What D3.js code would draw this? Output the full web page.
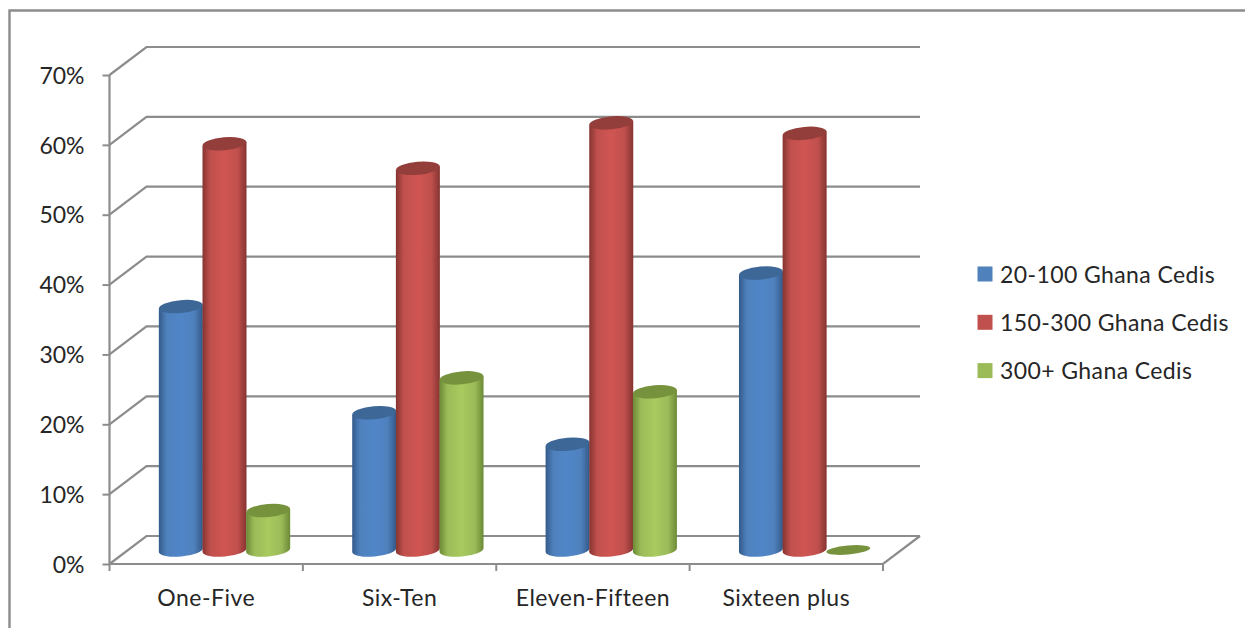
<!DOCTYPE html>
<html><head><meta charset="utf-8">
<script src="https://cdn.jsdelivr.net/npm/d3@7"></script>
<style>html,body{margin:0;padding:0;background:#fff}svg{display:block}text{font-family:Lato,sans-serif;fill:#262626}</style>
</head><body><svg id="c" width="1245" height="628"></svg>
<script>
const categories = ["One-Five","Six-Ten","Eleven-Fifteen","Sixteen plus"];
const seriesNames = ["20-100 Ghana Cedis","150-300 Ghana Cedis","300+ Ghana Cedis"];
const s1 = [0.352,0.20,0.155,0.40];
const s2 = [0.585,0.55,0.615,0.60];
const s3 = [0.06,0.25,0.23,0];
const yTicks = [0,0.1,0.2,0.3,0.4,0.5,0.6,0.7];
const palette = [
 {base:"#4f81bd",dark:"#335a8a",top:"#3d6796"},
 {base:"#c0504d",dark:"#863431",top:"#943e3b"},
 {base:"#9bbb59",dark:"#6c8a35",top:"#76923c"}];
const lightC = ["#5086c8","#d05552","#a8ca5e"];

const svg = d3.select("#c");
const grey = "#8c8c8c";
const dx = 37, dy = -28;
const x = d3.scaleBand().domain(categories).range([109.5,883]);
const y = d3.scaleLinear().domain([0,0.7]).range([564,75]);
const inner = d3.scaleBand().domain(d3.range(3)).range([0,131]);
const fs = 23;

// frame
svg.append("path").attr("d","M9.5,629V10.5H1246").attr("fill","none").attr("stroke",grey).attr("stroke-width",2.4);

// gradients
const defs = svg.append("defs");
palette.forEach((p,i)=>{
  const g = defs.append("linearGradient").attr("id","g"+i);
  [[0,p.dark],[0.18,p.base],[0.5,lightC[i]],[0.8,p.base],[1,p.dark]].forEach(s=>g.append("stop").attr("offset",s[0]).attr("stop-color",s[1]));
});

// gridlines
const grid = svg.append("g").attr("fill","none").attr("stroke",grey).attr("stroke-width",2.2);
yTicks.forEach(t=>{
  grid.append("path").attr("d",`M${x.range()[0]},${y(t)}l${dx},${dy}H${x.range()[1]+dx}`);
});
grid.append("path").attr("d",`M${x.range()[0]},${y(0)}H${x.range()[1]}l${dx},${dy}`);
grid.append("path").attr("d",`M${x.range()[0]},${y(0)}V${y(0.7)}`);

// axes
const yAxis = d3.axisLeft(y).tickValues(yTicks).tickFormat(d3.format(".0%")).tickSize(7).tickPadding(18);
const ya = svg.append("g").attr("transform",`translate(${x.range()[0]},0)`).call(yAxis);
ya.select(".domain").remove();
ya.selectAll("line").attr("stroke",grey).attr("stroke-width",2);
ya.selectAll("text").attr("font-size",fs).attr("font-family","Lato, sans-serif").attr("dy","0.36em");

const tickVals = [0,1,2,3,4].map(i=>x.range()[0]+i*x.step());
svg.append("g").selectAll("line").data(tickVals).join("line")
  .attr("x1",d=>d).attr("x2",d=>d).attr("y1",y(0)).attr("y2",y(0)+7).attr("stroke",grey).attr("stroke-width",2);
svg.append("g").selectAll("text").data(categories).join("text")
  .attr("x",d=>x(d)+x.bandwidth()/2).attr("y",606).attr("text-anchor","middle").attr("font-size",fs).attr("letter-spacing",0.5).text(d=>d);

// cylinders
const all = [s1,s2,s3];
const rx = 22, ry = 6.5, tilt = -5;
const floorY = y(0)-14;
const topShift = 2.5;
const groupOffset = 49.5;
categories.forEach((c,ci)=>{
  const g = svg.append("g");
  all.forEach((vals,si)=>{
    const v = vals[ci];
    const cx = x(c)+groupOffset+inner(si)+inner.bandwidth()/2;
    const topY = floorY+(v>0?topShift:0)-(y(0)-y(v));
    const bar = g.append("g").attr("transform",`translate(${cx},0)`);
    if(v>0){
      bar.append("path")
        .attr("d",`M${-rx},${topY+1.9}V${floorY+1.9}A${rx},${ry} ${tilt} 0 0 ${rx},${floorY-1.9}V${topY-1.9}Z`)
        .attr("fill",`url(#g${si})`);
    }
    bar.append("ellipse").attr("cx",0).attr("cy",topY).attr("rx",rx).attr("ry",v>0?ry:4.5)
      .attr("transform",`rotate(${tilt} 0 ${topY})`).attr("fill",palette[si].top);
  });
});

// legend
const lg = svg.append("g");
seriesNames.forEach((n,i)=>{
  const yy = 274+i*48.3;
  lg.append("rect").attr("x",977.5).attr("y",yy-7.5).attr("width",15).attr("height",15).attr("fill",palette[i].base);
  lg.append("text").attr("x",1000).attr("y",yy+8.5).attr("font-size",fs).attr("letter-spacing",0.4).text(n);
});
</script></body></html>
